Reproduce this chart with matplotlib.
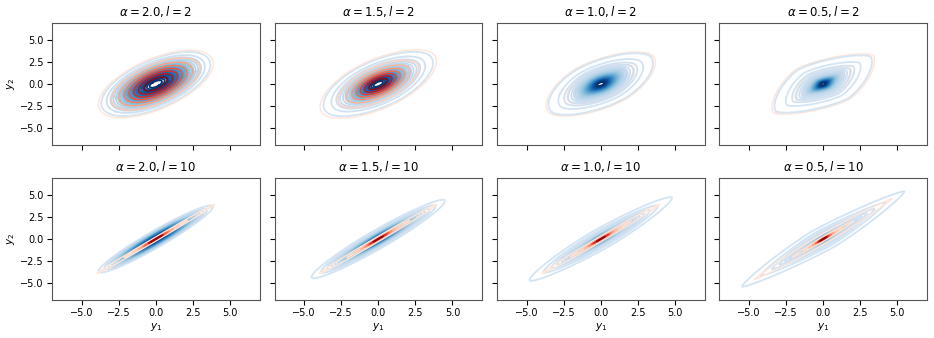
import numpy as np
import matplotlib
matplotlib.use("Agg")
import matplotlib.pyplot as plt
from matplotlib.colors import LinearSegmentedColormap

alphas = [2.0, 1.5, 1.0, 0.5]
lengths = [2, 10]

# density shape parameters (rows: l, cols: alpha)
blue_major = [[1.9, 1.5, 1.1, 0.8], [2.2, 2.0, 1.5, 1.2]]
blue_minor = [[0.95, 0.72, 0.55, 0.42], [0.32, 0.28, 0.22, 0.18]]
blue_tail = [[200, 6, 3, 2.0], [200, 6, 2.5, 1.5]]
blue_norm = [[2.0, 1.9, 1.75, 1.45], [2.0, 1.9, 1.7, 1.4]]
red_major = [[2.0, 1.6, 1.15, 0.85], [1.0, 1.0, 0.9, 0.7]]
red_minor = [[1.0, 0.76, 0.58, 0.45], [0.03, 0.04, 0.04, 0.05]]
red_tail = [[200, 6, 3, 2.0], [2, 2, 1.8, 1.2]]
# which set of contours is drawn on top in each panel
red_on_top = [[True, True, False, False], [True, True, True, True]]


def trunc(name, lo, hi=1.0):
    base = plt.get_cmap(name)
    return LinearSegmentedColormap.from_list(name + "_t", base(np.linspace(lo, hi, 256)))


def density(X, Y, a, b, nu, p):
    u = (X + Y) / np.sqrt(2)
    v = (Y - X) / np.sqrt(2)
    q = (np.abs(u / a) ** p + np.abs(v / b) ** p) ** (2.0 / p)
    if nu > 100:
        return np.exp(-q / 2)
    return (1 + q / nu) ** (-(nu + 2) / 2)


def iso_levels(Z, n, thresh=0.05):
    iso = np.linspace(thresh, 1, n)
    vals = np.sort(Z.ravel())[::-1]
    cum = np.cumsum(vals) / vals.sum()
    idx = np.searchsorted(cum, 1 - iso)
    lev = np.take(vals, idx, mode="clip")
    lev = np.unique(lev)
    return lev[lev < vals[0] * 0.999]


g = np.linspace(-7, 7, 600)
X, Y = np.meshgrid(g, g)

fig, axes = plt.subplots(2, 4, figsize=(9.34, 3.38), dpi=100, sharex=True, sharey=True)
fig.subplots_adjust(left=0.0557, right=0.9925, top=0.932, bottom=0.1124, wspace=0.072, hspace=0.27)

blues = trunc("Blues", 0.18)
reds = trunc("Reds", 0.1, 0.92)

for r, l in enumerate(lengths):
    for c, al in enumerate(alphas):
        ax = axes[r, c]
        p = blue_norm[r][c]
        Zb = density(X, Y, blue_major[r][c], blue_minor[r][c], blue_tail[r][c], p)
        Zr = density(X, Y, red_major[r][c], red_minor[r][c], red_tail[r][c], p)
        zb, zr = (1, 2) if red_on_top[r][c] else (2, 1)
        ax.contour(X, Y, Zb, levels=iso_levels(Zb, 26), cmap=blues, linewidths=1.3, zorder=zb)
        ax.contour(X, Y, Zr, levels=iso_levels(Zr, 9), cmap=reds, linewidths=1.0, zorder=zr)
        ax.set_title(r"$\alpha = %.1f, l = %d$" % (al, l), fontsize=8.5, pad=5)
        ax.set_xlim(-7, 7)
        ax.set_ylim(-7, 7)
        ax.set_xticks([-5, -2.5, 0, 2.5, 5])
        ax.set_yticks([-5, -2.5, 0, 2.5, 5])
        ax.tick_params(labelsize=7, length=3.5, pad=2.5)
        for s in ax.spines.values():
            s.set_color("#555555")
        if r == 1:
            ax.set_xlabel(r"$y_1$", fontsize=7.5, labelpad=2)
        if c == 0:
            ax.set_ylabel(r"$y_2$", fontsize=7.5, labelpad=2)

fig.savefig("out.png", dpi=100)
